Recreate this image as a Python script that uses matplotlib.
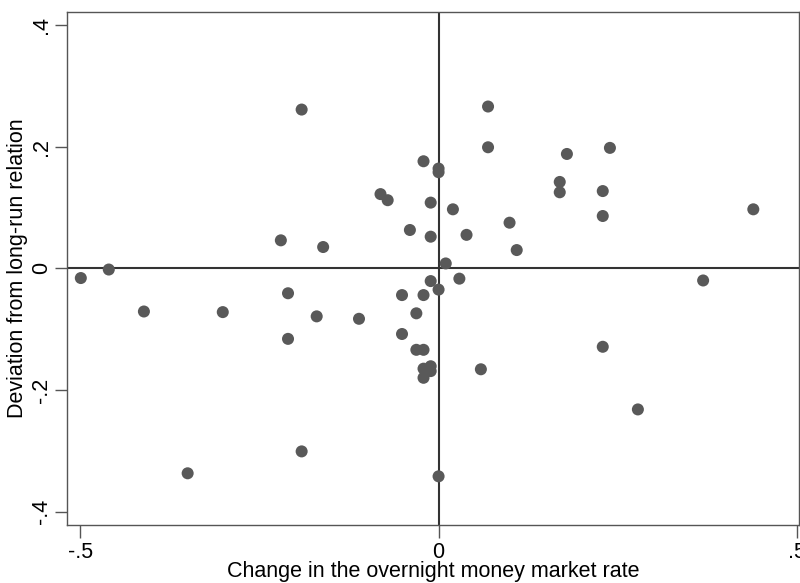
import numpy as np
import matplotlib.pyplot as plt

# change in overnight rate (x) vs deviation from long-run relation (y)
dx = [-0.499, -0.460, -0.191, -0.220, -0.161, -0.081, -0.071, -0.210,
      0.069, 0.069, -0.021, 0.000, 0.000, 0.179, 0.239, 0.169, 0.169,
      0.229, 0.229, 0.439, -0.011, 0.020, -0.040, -0.011, 0.039, 0.099,
      0.109, 0.010, 0.029, -0.011, 0.000, 0.369, -0.051, -0.021,
      -0.411, -0.301, -0.170, -0.111, -0.210, -0.191, -0.350,
      -0.031, -0.051, -0.031, -0.021, -0.021, -0.011, -0.011, -0.021,
      0.059, 0.229, 0.278, 0.000]
dev = [-0.016, -0.002, 0.261, 0.046, 0.035, 0.122, 0.112, -0.041,
       0.266, 0.199, 0.176, 0.164, 0.158, 0.188, 0.198, 0.142, 0.125,
       0.127, 0.086, 0.097, 0.108, 0.097, 0.063, 0.052, 0.055, 0.075,
       0.030, 0.008, -0.017, -0.021, -0.035, -0.020, -0.044, -0.044,
       -0.071, -0.072, -0.079, -0.083, -0.116, -0.301, -0.337,
       -0.074, -0.108, -0.134, -0.134, -0.165, -0.161, -0.169, -0.180,
       -0.166, -0.129, -0.232, -0.342]

xticks = [-0.5, 0, 0.5]
xticklabels = ["-.5", "0", ".5"]
yticks = [-0.4, -0.2, 0, 0.2, 0.4]
yticklabels = ["-.4", "-.2", "0", ".2", ".4"]

plt.rcParams['font.family'] = ['Liberation Sans', 'DejaVu Sans']

fig = plt.figure(figsize=(8, 5.83), dpi=100)
ax = fig.add_axes([0.084, 0.0995, 0.915, 0.8795])

ax.axhline(0, color="#333333", lw=1.5, zorder=1)
ax.axvline(0, color="#333333", lw=1.5, zorder=1)
ax.scatter(dx, dev, s=75, color="#595959", edgecolors="none", zorder=3)

ax.set_xlim(-0.518, 0.503)
ax.set_ylim(-0.422, 0.421)

ax.set_xticks(xticks)
ax.set_xticklabels(xticklabels)
ax.set_yticks(yticks)
ax.set_yticklabels(yticklabels, rotation=90, va="center")

ax.tick_params(axis="both", length=9, width=1, color="#555555",
               labelsize=15.5)
ax.tick_params(axis="x", pad=3)
ax.tick_params(axis="y", pad=2)
for side in ["left", "bottom", "top", "right"]:
    ax.spines[side].set_color("#555555")
    ax.spines[side].set_linewidth(1)

ax.set_xlabel("Change in the overnight money market rate", fontsize=15.5, labelpad=-1)
ax.set_ylabel("Deviation from long-run relation", fontsize=15.5, labelpad=2)

fig.savefig("out.png", dpi=100)
